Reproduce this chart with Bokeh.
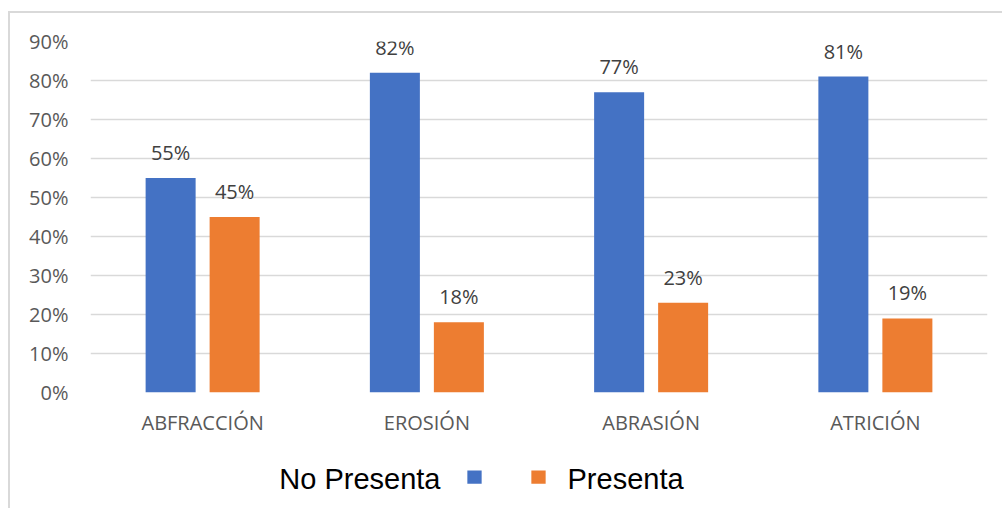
from bokeh.plotting import figure
from bokeh.models import (ColumnDataSource, FactorRange, Range1d, FixedTicker,
                          NumeralTickFormatter, LabelSet, Label)
from bokeh.transform import dodge
from bokeh.layouts import column
from bokeh.embed import file_html
from bokeh.resources import INLINE
from bokeh.core.properties import value

# ---- data -------------------------------------------------------------
categories = ["ABFRACCIÓN", "EROSIÓN", "ABRASIÓN", "ATRICIÓN"]
no_presenta = [0.55, 0.82, 0.77, 0.81]
presenta = [0.45, 0.18, 0.23, 0.19]
series_names = ["No Presenta", "Presenta"]
series_colors = ["#4472C4", "#ED7D31"]
y_ticks = [0.0, 0.1, 0.2, 0.3, 0.4, 0.5, 0.6, 0.7, 0.8, 0.9]

# ---- styling ------------------------------------------------------------
AXIS_FONT = "Open Sans"
LEGEND_FONT = "Liberation Sans"
GRID = "#d9d9d9"
BAR_W = 0.223
OFFSET = 0.1427
BORDER_L, BORDER_R = 80, 15

src = ColumnDataSource(dict(
    cat=categories,
    no=no_presenta,
    si=presenta,
    no_lbl=[f"{round(v * 100)}%" for v in no_presenta],
    si_lbl=[f"{round(v * 100)}%" for v in presenta],
    x_no=[i + 0.5 - OFFSET for i in range(len(categories))],
    x_si=[i + 0.5 + OFFSET for i in range(len(categories))],
))

p = figure(x_range=FactorRange(*categories, range_padding=0),
           y_range=Range1d(0, 0.9),
           width=992, height=432,
           min_border_left=BORDER_L, min_border_right=BORDER_R,
           min_border_top=28, min_border_bottom=53,
           output_backend="svg", toolbar_location=None)

p.vbar(x=dodge("cat", -OFFSET, range=p.x_range), top="no", width=BAR_W,
       source=src, color=series_colors[0], line_color=None)
p.vbar(x=dodge("cat", OFFSET, range=p.x_range), top="si", width=BAR_W,
       source=src, color=series_colors[1], line_color=None)

for xcol, ycol, tcol in (("x_no", "no", "no_lbl"), ("x_si", "si", "si_lbl")):
    p.add_layout(LabelSet(x=xcol, y=ycol, text=tcol, source=src,
                          y_offset=18, text_align="center",
                          text_baseline="alphabetic",
                          text_font=value(AXIS_FONT), text_font_size="20px",
                          text_color="#404040"))

p.outline_line_color = None
p.background_fill_color = "white"
p.border_fill_color = "white"

p.xgrid.grid_line_color = None
p.ygrid.grid_line_color = GRID
p.ygrid.grid_line_width = 1.5
p.yaxis.ticker = FixedTicker(ticks=y_ticks)
p.yaxis.formatter = NumeralTickFormatter(format="0%")

for ax in (p.xaxis, p.yaxis):
    ax.axis_line_color = None
    ax.major_tick_line_color = None
    ax.minor_tick_line_color = None
    ax.major_tick_out = 0
    ax.major_tick_in = 0
    ax.major_label_text_font = AXIS_FONT
    ax.major_label_text_font_size = "20px"
    ax.major_label_text_color = "#595959"
p.yaxis.major_label_standoff = 22
p.xaxis.major_label_standoff = 16

# ---- legend strip (x in page pixels, same frame as the chart) ------------
leg = figure(width=992, height=63, x_range=Range1d(90, 987), y_range=Range1d(0, 63),
             min_border_left=BORDER_L, min_border_right=BORDER_R,
             min_border_top=0, min_border_bottom=0,
             output_backend="svg", toolbar_location=None)
leg.axis.visible = False
leg.grid.visible = False
leg.outline_line_color = None
leg.border_fill_color = "white"

leg.rect(x=[474, 538], y=[31.3, 31.3], width=14.3, height=13.3,
         color=series_colors, line_color=None)
leg.add_layout(Label(x=440, y=30, text=series_names[0], text_align="right",
                     text_baseline="alphabetic", text_font=LEGEND_FONT,
                     text_font_size="29px", text_color="black"))
leg.add_layout(Label(x=567, y=30, text=series_names[1], text_align="left",
                     text_baseline="alphabetic", text_font=LEGEND_FONT,
                     text_font_size="29px", text_color="black"))

layout = column(p, leg, spacing=0)
layout.margin = (11, 0, 0, 8)
layout.styles = {"border-top": f"2px solid {GRID}", "border-left": f"2px solid {GRID}"}

open("out.html", "w").write(file_html(layout, INLINE))
